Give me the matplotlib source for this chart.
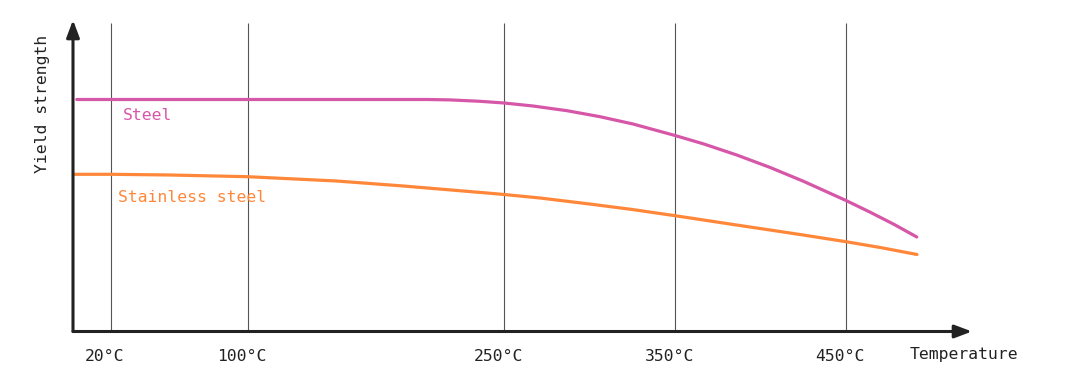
import matplotlib
matplotlib.use("Agg")
import matplotlib.pyplot as plt
import matplotlib.transforms as mtransforms

# temperatures where the curves were read (deg C) and the relative strength
steel_t = [0, 100, 150, 190, 205, 218.4, 235.9, 250, 266.9, 286.8, 306.1, 325.4, 350,
           366.5, 386.1, 405.5, 425, 450, 464, 478, 491.4]
steel_y = [232, 232, 232, 232, 232, 231.6, 230.2, 228.5, 225.5, 220.8, 214.8, 207.5, 196,
           187.7, 176.5, 164.1, 150.3, 131, 119.4, 107.2, 94.5]

stainless_t = [-1.6, 20, 54.5, 100, 152, 191, 240, 250, 271, 300, 325, 350, 386, 425, 450, 470, 491.5]
stainless_y = [157.2, 157.2, 156.5, 154.8, 150.5, 145.5, 138.5, 137, 133.5, 127.5, 122, 115.8,
               106.5, 96.5, 89.8, 84, 77]

tick_temps = [20, 100, 250, 350, 450]
tick_labels = ['20°C', '100°C', '250°C', '350°C', '450°C']

steel_color = '#D657A8'
stainless_color = '#FF873A'
font = 'DejaVu Sans Mono'

W, H = 1070, 377
fig = plt.figure(figsize=(W / 100, H / 100), dpi=100)
ax = fig.add_axes([73 / W, 45.5 / H, (972 - 73) / W, (331.5 - 20) / H])
ax.set_xlim(-2.2, 523.7)
ax.set_ylim(0, 311.5)
for s in ax.spines.values():
    s.set_visible(False)

ax.vlines(tick_temps, 0, 308.8, color='#555555', lw=0.8, zorder=1)

ax.plot(steel_t, steel_y, color=steel_color, lw=2.3, solid_capstyle='round', zorder=3)
ax.plot(stainless_t, stainless_y, color=stainless_color, lw=2.3, solid_capstyle='round', zorder=3)

ax.text(27, 215.5, 'Steel', color=steel_color, fontsize=11.8, family=font,
        ha='left', va='center')
ax.text(24.1, 133.5, 'Stainless steel', color=stainless_color, fontsize=11.8,
        family=font, ha='left', va='center')

# axes with arrow heads
arrow = dict(arrowstyle='-|>,head_length=0.8,head_width=0.3', color='#222222',
             lw=2.2, shrinkA=0, shrinkB=0, mutation_scale=13)
ax.annotate('', xy=(1, 0), xytext=(0, 0), xycoords='axes fraction',
            arrowprops=arrow, annotation_clip=False)
ax.annotate('', xy=(0, 1), xytext=(0, 0), xycoords='axes fraction',
            arrowprops=arrow, annotation_clip=False)

ax.set_xticks(tick_temps)
ax.set_xticklabels(tick_labels, family=font, fontsize=11.8, color='#222222')
ax.tick_params(axis='x', length=0, pad=12.5)
ax.set_yticks([])
shift = mtransforms.ScaledTranslation(-6 / 100, 0, fig.dpi_scale_trans)
for lbl in ax.get_xticklabels():
    lbl.set_transform(lbl.get_transform() + shift)

ax.text(487.4, -23.5, 'Temperature', family=font, fontsize=11.8, color='#222222',
        ha='left', va='center', clip_on=False)
fig.text(43 / W, 1 - 103.5 / H, 'Yield strength', family=font, fontsize=11.8,
         color='#222222', rotation=90, ha='center', va='center')

fig.savefig('out.png', dpi=100)
